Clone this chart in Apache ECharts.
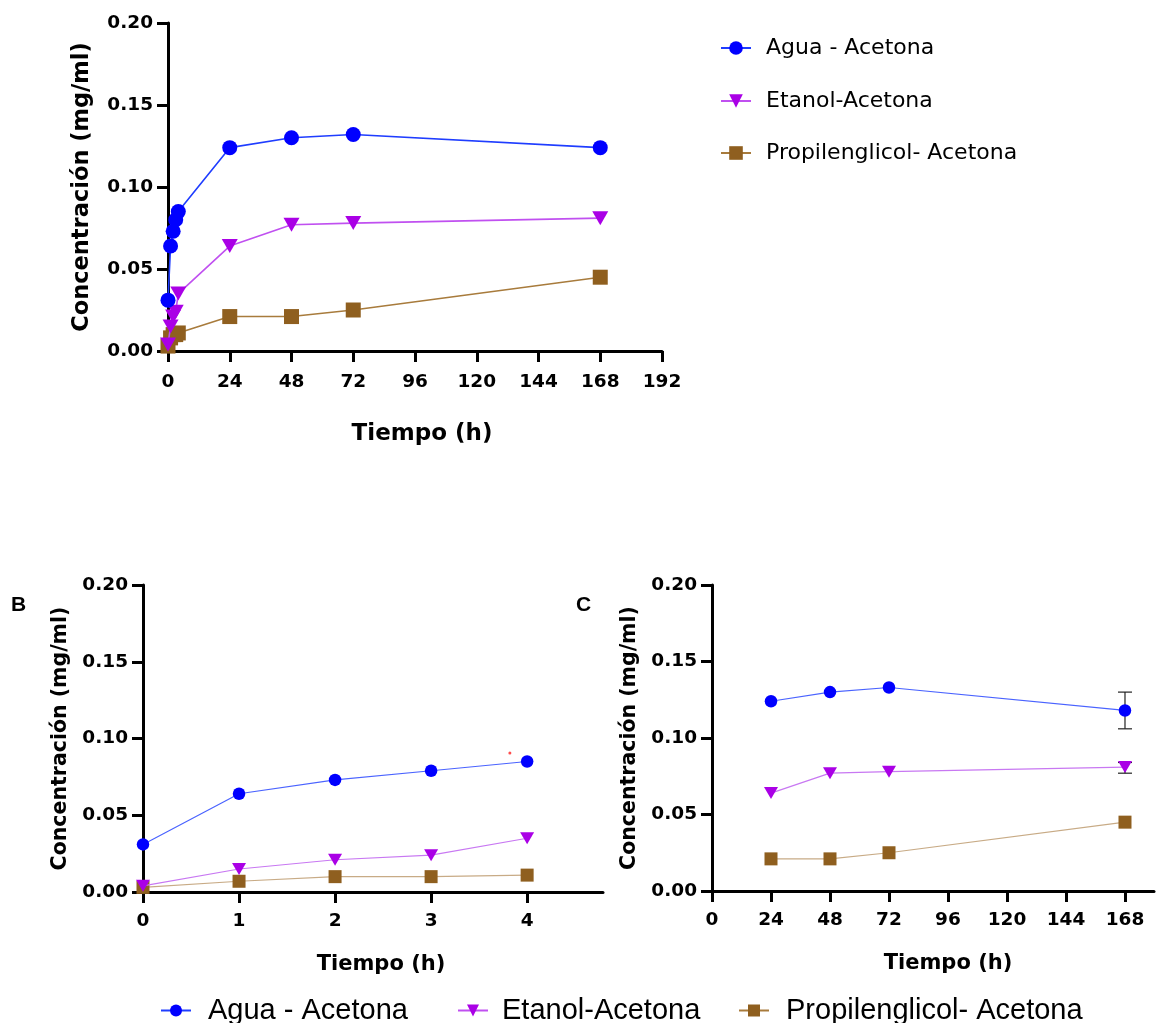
<!DOCTYPE html>
<html>
<head>
<meta charset="utf-8">
<script src="https://cdn.jsdelivr.net/npm/echarts@6/dist/echarts.min.js"></script>
<style>
html,body{margin:0;padding:0;background:#fff;}
#chart{width:1156px;height:1023px;}
</style>
</head>
<body>
<div id="chart"></div>
<script>
// ---------- DATA ----------
const seriesNames = ['Agua - Acetona', 'Etanol-Acetona', 'Propilenglicol- Acetona'];

// Panel A (full time course)
const hoursA = [0, 1, 2, 3, 4, 24, 48, 72, 168];
const aguaA = [0.031, 0.064, 0.073, 0.080, 0.085, 0.124, 0.130, 0.132, 0.124];
const etanolA = [0.004, 0.015, 0.021, 0.024, 0.035, 0.064, 0.077, 0.078, 0.081];
const propA = [0.003, 0.008, 0.010, 0.010, 0.011, 0.021, 0.021, 0.025, 0.045];

// Panel B (0-4 h)
const hoursB = [0, 1, 2, 3, 4];
const aguaB = [0.031, 0.064, 0.073, 0.079, 0.085];
const etanolB = [0.004, 0.015, 0.021, 0.024, 0.035];
const propB = [0.003, 0.007, 0.010, 0.010, 0.011];
const strayDotB = [[3.82, 0.0905]];

// Panel C (24-168 h)
const hoursC = [24, 48, 72, 168];
const aguaC = [0.124, 0.130, 0.133, 0.118];
const etanolC = [0.064, 0.077, 0.078, 0.081];
const propC = [0.021, 0.021, 0.025, 0.045];
// error bars (only visible at 168 h)
const errHoursC = [168, 168];
const errLowC = [0.106, 0.077];
const errHighC = [0.130, 0.084];

// tick values
const yTicks = [0, 0.05, 0.10, 0.15, 0.20];
const xTicksA = [0, 24, 48, 72, 96, 120, 144, 168, 192];
const xTicksB = [0, 1, 2, 3, 4];
const xTicksC = [0, 24, 48, 72, 96, 120, 144, 168];

// ---------- STYLE ----------
const markerColors = ['#0000ff', '#aa00e6', '#8f5f1f'];
const lineColorsA = ['#1f3dff', '#c050f0', '#a87b3c'];
const lineColorsBC = ['#4a63ff', '#c878f2', '#c8ab86'];
const symbols = ['circle', 'triangle', 'rect'];
const rotates = [0, 180, 0];
const sizesA = [15, [16, 14], 15];
const sizesBC = [12.5, [14, 12], 13];
const zs = [4, 3, 2];

const pair = (xs, ys) => xs.map((x, i) => [x, ys[i]]);

function lineSeries(idx, gridIdx, xs, ys, big) {
  return {
    type: 'line',
    name: seriesNames[idx],
    xAxisIndex: gridIdx,
    yAxisIndex: gridIdx,
    data: pair(xs, ys),
    symbol: symbols[idx],
    symbolRotate: rotates[idx],
    symbolSize: big ? sizesA[idx] : sizesBC[idx],
    showAllSymbol: true,
    clip: false,
    z: zs[idx],
    lineStyle: { color: big ? lineColorsA[idx] : lineColorsBC[idx], width: big ? 1.6 : 1.2 },
    itemStyle: { color: markerColors[idx], borderWidth: 0 },
    emphasis: { disabled: true },
    animation: false
  };
}

const tickFont = 'DejaVu Sans';
function yAxis(gridIdx, nameGap, fontSize, titleSize) {
  return {
    type: 'value', gridIndex: gridIdx, min: 0, max: 0.2, interval: 0.05,
    name: 'Concentración (mg/ml)', nameLocation: 'middle', nameGap: nameGap,
    nameTextStyle: { fontFamily: tickFont, fontWeight: 'bold', fontSize: titleSize, color: '#000' },
    axisLine: { show: true, lineStyle: { color: '#000', width: 3 } },
    axisTick: { show: true, length: 11, lineStyle: { color: '#000', width: 3 } },
    axisLabel: { margin: 15, fontFamily: tickFont, fontWeight: 'bold', fontSize: fontSize, color: '#000',
      formatter: v => v.toFixed(2) },
    splitLine: { show: false }
  };
}
function xAxis(gridIdx, max, ticks, nameGap, fontSize, titleSize, shift, labelMargin) {
  return {
    type: 'value', gridIndex: gridIdx, min: 0, max: max,
    name: 'Tiempo (h)', nameLocation: 'middle', nameGap: nameGap,
    nameTextStyle: { fontFamily: tickFont, fontWeight: 'bold', fontSize: titleSize, color: '#000',
      padding: [0, 0, 0, shift] },
    axisLine: { show: true, onZero: false, lineStyle: { color: '#000', width: 3 } },
    axisTick: { show: true, length: 11, customValues: ticks, lineStyle: { color: '#000', width: 3 } },
    axisLabel: { margin: labelMargin, customValues: ticks, fontFamily: tickFont, fontWeight: 'bold',
      fontSize: fontSize, color: '#000', formatter: v => String(v) },
    splitLine: { show: false }
  };
}

function legendAt(name, left, top, fontFamily, fontSize, gap, iconH) {
  return {
    data: [name], left: left, top: top, orient: 'horizontal',
    itemWidth: 30, itemHeight: iconH, selectedMode: false,
    textStyle: { fontFamily: fontFamily, fontSize: fontSize, color: '#000', padding: [0, 0, 0, gap],
      lineHeight: fontSize + 4 }
  };
}

const errData = errHoursC.map((h, i) => [h, errLowC[i], errHighC[i]]);

const option = {
  backgroundColor: '#fff',
  animation: false,
  grid: [
    { left: 168, top: 23, width: 494, height: 328 },
    { left: 143, top: 585, width: 460, height: 307 },
    { left: 712, top: 585, width: 442, height: 306 }
  ],
  xAxis: [
    xAxis(0, 192, xTicksA, 72, 18.5, 23, 14, 22),
    xAxis(1, 4.79, xTicksB, 62, 18.5, 21, 16, 20),
    xAxis(2, 179.8, xTicksC, 62, 18.5, 21, 30, 20)
  ],
  yAxis: [
    yAxis(0, 74, 18.5, 22.5),
    yAxis(1, 72, 18.5, 20.5),
    yAxis(2, 72, 18.5, 20.5)
  ],
  legend: [
    legendAt(seriesNames[0], 715, 30, 'DejaVu Sans', 22, 10, 17),
    legendAt(seriesNames[1], 715, 83, 'DejaVu Sans', 22, 10, 17),
    legendAt(seriesNames[2], 715, 135, 'DejaVu Sans', 22, 10, 17),
    legendAt(seriesNames[0], 155, 989, 'Liberation Sans', 29, 12, 15),
    legendAt(seriesNames[1], 452, 989, 'Liberation Sans', 29, 9, 15),
    legendAt(seriesNames[2], 733, 989, 'Liberation Sans', 29, 12, 15)
  ],
  graphic: [
    { type: 'text', left: 11, top: 595, style: { text: 'B', font: 'bold 21px "Liberation Sans"', fill: '#000' } },
    { type: 'text', left: 576, top: 595, style: { text: 'C', font: 'bold 21px "Liberation Sans"', fill: '#000' } }
  ],
  series: [
    lineSeries(0, 0, hoursA, aguaA, true),
    lineSeries(1, 0, hoursA, etanolA, true),
    lineSeries(2, 0, hoursA, propA, true),
    lineSeries(0, 1, hoursB, aguaB, false),
    lineSeries(1, 1, hoursB, etanolB, false),
    lineSeries(2, 1, hoursB, propB, false),
    {
      type: 'scatter', name: 'stray', xAxisIndex: 1, yAxisIndex: 1, data: strayDotB,
      symbol: 'circle', symbolSize: 3, itemStyle: { color: '#ff2020' }, silent: true, z: 1
    },
    {
      type: 'custom', name: 'err', xAxisIndex: 2, yAxisIndex: 2, data: errData, z: 1, silent: true,
      renderItem: function (params, api) {
        const x = api.value(0);
        const lo = api.coord([x, api.value(1)]);
        const hi = api.coord([x, api.value(2)]);
        const w = 7;
        const st = { stroke: '#222', lineWidth: 1.2 };
        return {
          type: 'group',
          children: [
            { type: 'line', shape: { x1: lo[0], y1: lo[1], x2: hi[0], y2: hi[1] }, style: st },
            { type: 'line', shape: { x1: lo[0] - w, y1: lo[1], x2: lo[0] + w, y2: lo[1] }, style: st },
            { type: 'line', shape: { x1: hi[0] - w, y1: hi[1], x2: hi[0] + w, y2: hi[1] }, style: st }
          ]
        };
      }
    },
    lineSeries(0, 2, hoursC, aguaC, false),
    lineSeries(1, 2, hoursC, etanolC, false),
    lineSeries(2, 2, hoursC, propC, false)
  ]
};

const chart = echarts.init(document.getElementById('chart'), null, { renderer: 'canvas' });
chart.setOption(option);
</script>
</body>
</html>
